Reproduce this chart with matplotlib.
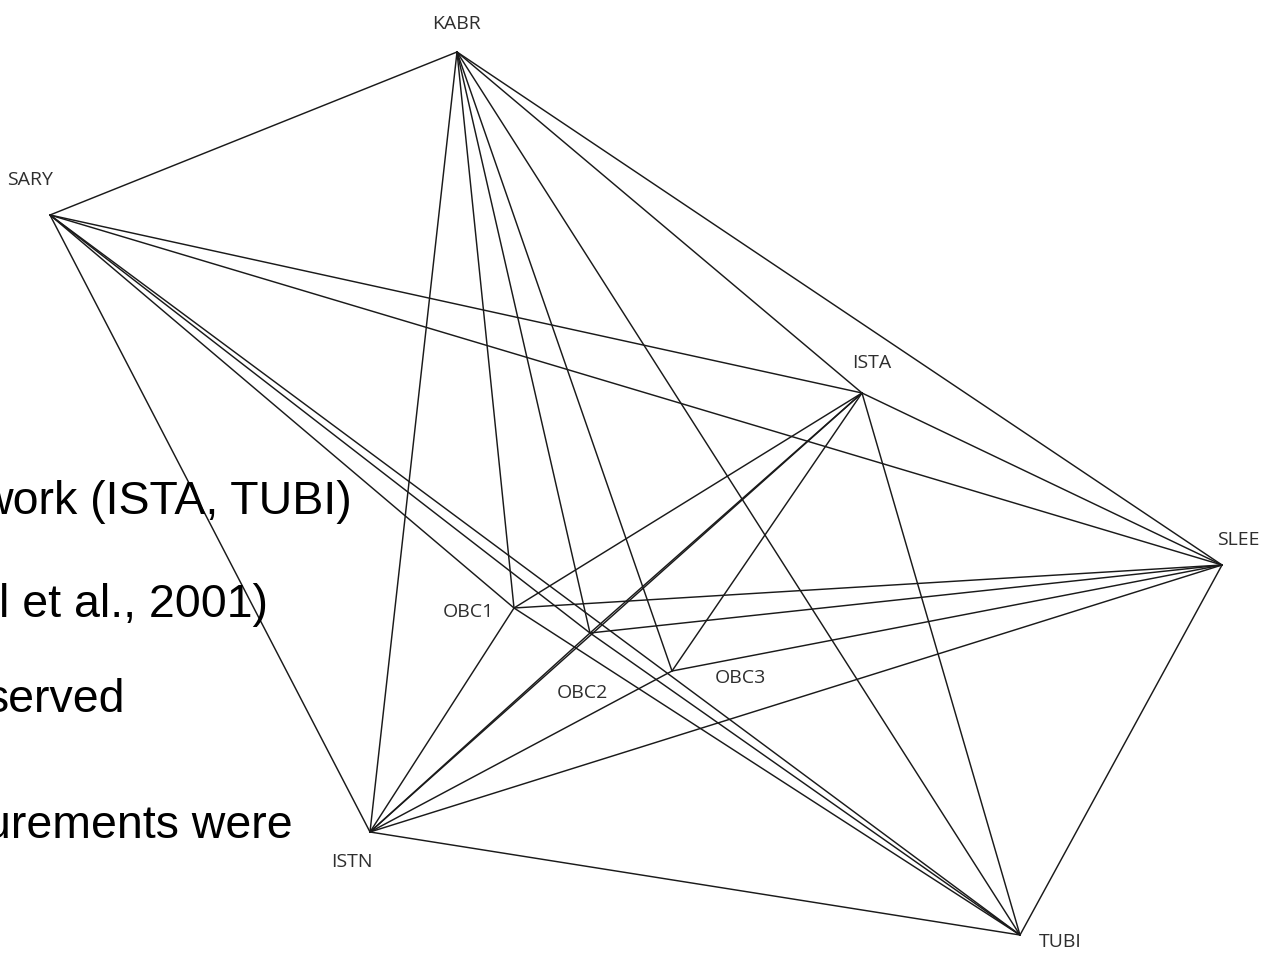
import matplotlib
matplotlib.use('Agg')
import matplotlib.pyplot as plt

# station positions (pixel units, y down)
stations = ['KABR', 'SARY', 'ISTA', 'SLEE', 'OBC1', 'OBC2', 'OBC3', 'ISTN', 'TUBI']
station_x = [457, 50, 862, 1222, 514, 590, 672, 370, 1020]
station_y = [52, 215, 393, 565, 608, 633, 671, 832, 935]

# where each name is written
label_x = [457, 30, 872, 1238, 468, 582, 740, 352, 1060]
label_y = [24, 180, 363, 540, 612, 693, 678, 862, 942]

# observed baselines
baselines = [
    ('SARY', 'KABR'), ('SARY', 'ISTN'), ('SARY', 'ISTA'), ('SARY', 'SLEE'),
    ('SARY', 'OBC1'), ('SARY', 'OBC2'), ('SARY', 'TUBI'),
    ('KABR', 'ISTN'), ('KABR', 'OBC1'), ('KABR', 'OBC2'), ('KABR', 'OBC3'),
    ('KABR', 'TUBI'), ('KABR', 'ISTA'), ('KABR', 'SLEE'),
    ('ISTA', 'SLEE'), ('ISTA', 'TUBI'), ('ISTA', 'ISTN'), ('ISTA', 'OBC1'),
    ('ISTA', 'OBC2'), ('ISTA', 'OBC3'),
    ('SLEE', 'OBC1'), ('SLEE', 'OBC2'), ('SLEE', 'OBC3'), ('SLEE', 'ISTN'),
    ('SLEE', 'TUBI'),
    ('ISTN', 'OBC1'), ('ISTN', 'OBC2'), ('ISTN', 'OBC3'), ('ISTN', 'TUBI'),
    ('OBC1', 'TUBI'), ('OBC2', 'TUBI'),
]

# slide text that sits behind the figure (clipped at the left edge)
slide_lines = ['work (ISTA, TUBI)', 'l et al., 2001)', 'served', 'urements were']
slide_right = [352, 268, 125, 293]
slide_base = [514, 617, 712, 838]

W, H = 1269, 959
fig = plt.figure(figsize=(W / 100, H / 100), dpi=100)
ax = fig.add_axes([0, 0, 1, 1])
ax.set_xlim(0, W)
ax.set_ylim(H, 0)
ax.axis('off')

pos = {s: (x, y) for s, x, y in zip(stations, station_x, station_y)}
for a, b in baselines:
    (x0, y0), (x1, y1) = pos[a], pos[b]
    ax.plot([x0, x1], [y0, y1], color='#1a1a1a', lw=1.05, zorder=2,
            solid_capstyle='round')

for s, lx, ly in zip(stations, label_x, label_y):
    ax.text(lx, ly, s, ha='center', va='center', fontsize=14,
            family='Open Sans', color='#2e2e2e', zorder=4,
            bbox=dict(facecolor='white', edgecolor='none', pad=1.0))

for t, rx, by in zip(slide_lines, slide_right, slide_base):
    ax.text(rx, by, t, ha='right', va='baseline', fontsize=33.5,
            family='Liberation Sans', color='black', zorder=3)

fig.savefig('out.png', dpi=100)
